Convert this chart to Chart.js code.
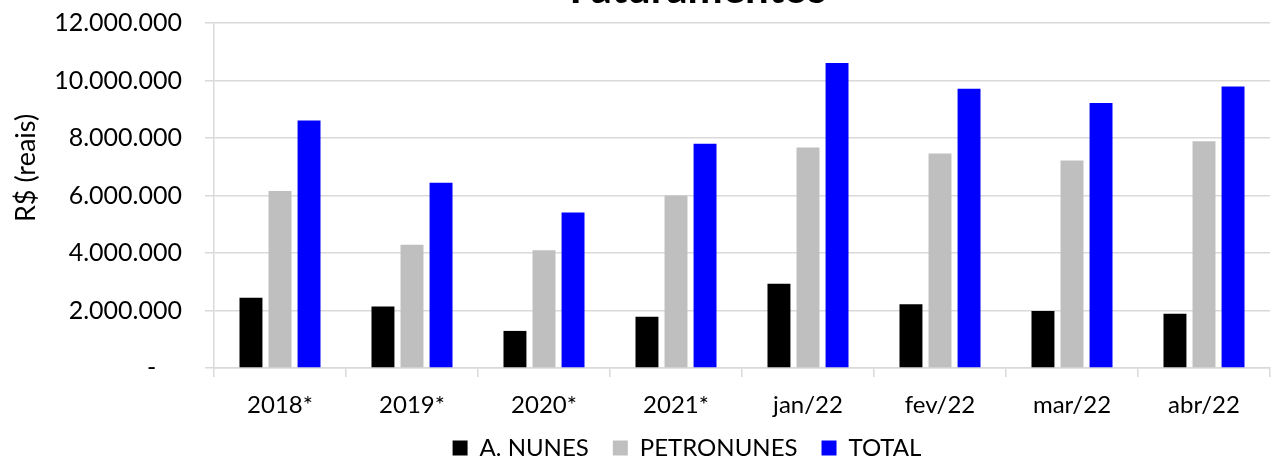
<!DOCTYPE html>
<html>
<head>
<meta charset="utf-8">
<script src="https://cdn.jsdelivr.net/npm/chart.js@4.4.0/dist/chart.umd.min.js"></script>
<style>
  html, body { margin: 0; padding: 0; background: #fff; }
  #wrap { width: 1275px; height: 460px; position: relative; }
</style>
</head>
<body>
<div id="wrap"><canvas id="chart"></canvas></div>
<script>
var categories = ['2018*', '2019*', '2020*', '2021*', 'jan/22', 'fev/22', 'mar/22', 'abr/22'];
var aNunes = [2445000, 2140000, 1290000, 1780000, 2930000, 2220000, 1980000, 1890000];
var petronunes = [6160000, 4290000, 4100000, 6000000, 7670000, 7460000, 7220000, 7890000];
var total = [8610000, 6440000, 5410000, 7800000, 10610000, 9710000, 9220000, 9790000];
var yTicks = [0, 2000000, 4000000, 6000000, 8000000, 10000000, 12000000];

var FONT = 'Lato, "Liberation Sans", sans-serif';

var formatBR = function (v) {
  if (v === 0) return '-    ';
  return String(Math.round(v)).replace(/\B(?=(\d{3})+(?!\d))/g, '.');
};

// texts drawn outside the chart area (cut-off title, y title)
var extraText = {
  id: 'extraText',
  afterDraw: function (chart) {
    var ctx = chart.ctx;
    ctx.save();
    ctx.fillStyle = '#000';
    ctx.font = 'bold 42px ' + FONT;
    ctx.textAlign = 'center';
    ctx.textBaseline = 'alphabetic';
    ctx.fillText('Faturamentos', 698, 3);
    ctx.translate(26, 168);
    ctx.rotate(-Math.PI / 2);
    ctx.font = '27px ' + FONT;
    ctx.textBaseline = 'middle';
    ctx.fillText('R$ (reais)', 0, 0);
    ctx.restore();
  }
};

// legend: short box, moved a bit right/down like the original
var legendFit = {
  id: 'legendFit',
  beforeInit: function (chart) {
    var lg = chart.legend;
    if (!lg) return;
    var fit = lg.fit.bind(lg);
    lg.fit = function () { fit(); this.height = 32; };
  },
  afterLayout: function (chart) {
    var lg = chart.legend;
    if (!lg) return;
    lg.left += 104;
    lg.top = 412;
    lg.bottom = 460;
  }
};

new Chart(document.getElementById('chart'), {
  type: 'bar',
  data: {
    labels: categories,
    datasets: [
      { label: 'A. NUNES', data: aNunes, backgroundColor: '#000000' },
      { label: 'PETRONUNES', data: petronunes, backgroundColor: '#BFBFBF' },
      { label: 'TOTAL', data: total, backgroundColor: '#0000FF' }
    ]
  },
  options: {
    responsive: true,
    maintainAspectRatio: false,
    animation: false,
    categoryPercentage: 0.66,
    barPercentage: 0.79,
    layout: { padding: { top: 23, left: 0, right: 5, bottom: 0 } },
    plugins: {
      title: { display: false },
      tooltip: { enabled: false },
      legend: {
        position: 'bottom',
        labels: {
          font: { family: FONT, size: 24 },
          color: '#000',
          boxWidth: 15,
          boxHeight: 15,
          padding: 24
        }
      }
    },
    scales: {
      x: {
        grid: { offset: true, drawOnChartArea: false, drawTicks: true, tickLength: 9, color: '#d9d9d9', lineWidth: 1.5 },
        border: { color: '#d9d9d9', width: 1.5 },
        ticks: { font: { family: FONT, size: 24 }, color: '#000', padding: 14, maxRotation: 0 },
        afterFit: function (s) { s.height = 60; }
      },
      y: {
        min: 0,
        max: 12000000,
        afterBuildTicks: function (s) { s.ticks = yTicks.map(function (v) { return { value: v }; }); },
        grid: { color: '#d9d9d9', lineWidth: 1.5, tickLength: 9 },
        border: { color: '#d9d9d9', width: 1.5 },
        ticks: { font: { family: FONT, size: 25 }, color: '#000', padding: 23, callback: formatBR },
        afterFit: function (s) { s.width = 214; s.paddingTop = 0; s.paddingBottom = 0; }
      }
    }
  },
  plugins: [extraText, legendFit]
});
</script>
</body>
</html>
